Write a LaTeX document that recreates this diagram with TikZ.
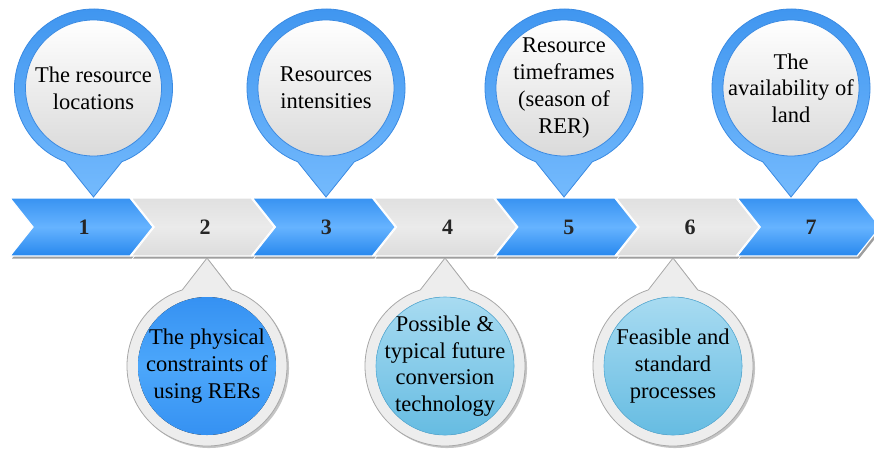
\documentclass[tikz,border=0pt]{standalone}
\usepackage{fontspec}
\setmainfont{Liberation Serif}
\usepackage{tikz}

\definecolor{chevblue}{HTML}{3893F2}
\definecolor{chevbluelight}{HTML}{66B3FF}
\definecolor{chevbluedark}{HTML}{2788EE}
\definecolor{chevgray}{HTML}{E0E0E0}
\definecolor{chevgraylight}{HTML}{EBEBEB}
\definecolor{chevgraydark}{HTML}{DCDCDC}
\definecolor{chevshadow}{HTML}{9E9E9E}
\definecolor{pinbluetop}{HTML}{3D94EF}
\definecolor{pinbluebot}{HTML}{74BAFD}
\definecolor{pinblueline}{HTML}{3A8AE2}
\definecolor{innergray}{HTML}{DADADA}
\definecolor{pingray}{HTML}{EDEDED}
\definecolor{pinrim}{HTML}{A8A8A8}
\definecolor{pinshadow}{HTML}{C4C4C4}
\definecolor{deepblue}{HTML}{3591F2}
\definecolor{deepbluelight}{HTML}{4CA7FB}
\definecolor{skytop}{HTML}{A8DBF1}
\definecolor{skybot}{HTML}{66BCE2}
\definecolor{skyline}{HTML}{5CB2DC}
\definecolor{numgray}{HTML}{262626}

\tikzset{
  chev/.style={draw=white, line width=1.2pt},
  bluechev/.style={chev, top color=chevblue, bottom color=chevbluedark, middle color=chevbluelight},
  graychev/.style={chev, top color=chevgray, bottom color=chevgraydark, middle color=chevgraylight},
  toppin/.style={draw=pinblueline, line width=0.8pt, top color=pinbluetop, bottom color=pinbluebot},
  topinner/.style={draw=pinblueline, line width=0.8pt, top color=white, bottom color=innergray},
  botpin/.style={draw=pinrim, line width=0.8pt, fill=pingray},
  deepinner/.style={top color=deepblue, bottom color=deepblue, middle color=deepbluelight},
  skyinner/.style={draw=skyline, line width=0.6pt, top color=skytop, bottom color=skybot},
  pintext/.style={align=center, text=black, font=\fontsize{22.5}{26.7}\selectfont},
  numtext/.style={text=numgray, font=\fontsize{22}{26}\selectfont\bfseries}
}

\begin{document}
\begin{tikzpicture}[x=1pt, y=-1pt]
  \useasboundingbox (0,0) rectangle (874,448);

  % shadow under the band
  \foreach \i in {1,...,7} {
    \pgfmathsetmacro{\cx}{10+121.2*(\i-1)}
    \fill[chevshadow] (\cx+2,200.5) -- ++(120,0) -- ++(23,29) -- ++(-23,29) -- ++(-120,0) -- ++(23,-29) -- cycle;
  }

  % the chevrons with their numbers
  \foreach \i/\st in {1/bluechev,2/graychev,3/bluechev,4/graychev,5/bluechev,6/graychev,7/bluechev} {
    \pgfmathsetmacro{\cx}{10+121.2*(\i-1)}
    \draw[\st] (\cx,198) -- ++(120,0) -- ++(23,29) -- ++(-23,29) -- ++(-120,0) -- ++(23,-29) -- cycle;
    \node[numtext] (n\i) at (\cx+74,227) {\i};
  }

  % the pins above
  \foreach \x in {93.5,326,564,791} {
    \draw[toppin] (\x,197) -- ([shift={(\x,88)}]111:79) arc[start angle=111, end angle=429, radius=79] -- cycle;
    \draw[topinner] (\x,88) circle[radius=68];
  }

  % the pins below
  \foreach \x/\st in {207/deepinner,445/skyinner,673/skyinner} {
    \fill[pinshadow] (\x+2,260) -- ([shift={(\x+2,368)}]288:80) arc[start angle=288, end angle=612, radius=80] -- cycle;
    \draw[botpin] (\x,258) -- ([shift={(\x,366)}]288:80) arc[start angle=288, end angle=612, radius=80] -- cycle;
    \fill[\st] (\x,366) circle[radius=69];
  }

  % the texts
  \node[pintext] (loc) at (93.5,88) {The resource\\locations};
  \node[pintext] (inten) at (326,88) {Resources\\intensities};
  \node[pintext] (time) at (564,88) {Resource\\timeframes\\(season of\\RER)};
  \node[pintext] (land) at (791,88) {The\\availability of\\land};
  \node[pintext] (phys) at (207,366) {The physical\\constraints of\\using RERs};
  \node[pintext] (tech) at (445,366) {Possible \&\\typical future\\conversion\\technology};
  \node[pintext] (proc) at (673,366) {Feasible and\\standard\\processes};
\end{tikzpicture}
\end{document}
